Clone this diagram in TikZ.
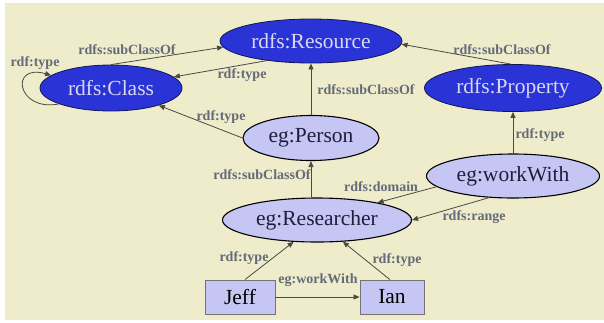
\documentclass[tikz,border=0pt]{standalone}
\usepackage{fontspec}
\setmainfont{Liberation Serif}
\usetikzlibrary{shapes.geometric,arrows.meta}

\definecolor{bg}{HTML}{EEECCB}
\definecolor{classblue}{HTML}{2A34D6}
\definecolor{lav}{HTML}{C6C6F4}
\definecolor{navytext}{HTML}{1E1E3C}
\definecolor{lighttext}{HTML}{D8D8F2}
\definecolor{lblgray}{HTML}{646A78}
\definecolor{edgegray}{HTML}{4A4A40}

\begin{document}
\begin{tikzpicture}[x=1pt,y=-1pt,
  nodefont/.style={font=\fontsize{21.5}{24}\selectfont},
  schema/.style={ellipse, draw=black!60!classblue, line width=0.8pt,
    fill=classblue, text=lighttext, inner sep=0pt, nodefont},
  inst/.style={ellipse, draw=black, line width=1.1pt,
    fill=lav, text=navytext, inner sep=0pt, nodefont},
  resbox/.style={rectangle, draw=black!55, line width=0.9pt, fill=lav,
    text=black, minimum width=70pt, minimum height=34pt, inner sep=0pt, nodefont},
  lbl/.style={text=lblgray, font=\bfseries\fontsize{14}{16}\selectfont, inner sep=0pt},
  rel/.style={draw=edgegray, line width=0.8pt, -{Triangle[length=6pt,width=5pt]}}
]
% canvas
\useasboundingbox (0,0) rectangle (604,322);
\fill[white] (0,0) rectangle (604,322);
\fill[bg] (5,3) rectangle (604,320);

% classes and properties
\node[schema, minimum width=182pt, minimum height=44pt] (rsrc) at (311,41) {rdfs:Resource};
\node[schema, minimum width=142pt, minimum height=46pt] (cls) at (111,88) {rdfs:Class};
\node[schema, minimum width=177pt, minimum height=47pt] (prop) at (513,88) {rdfs:Property};
\node[inst, minimum width=136pt, minimum height=45pt] (person) at (311,138) {eg:Person};
\node[inst, minimum width=173pt, minimum height=44pt] (work) at (513,176) {eg:workWith};
\node[inst, minimum width=189pt, minimum height=44pt] (rsch) at (317,220) {eg:Researcher};

% individuals
\node[resbox] (jeff) at (240,297) {Jeff};
\node[resbox, minimum width=64pt] (ian) at (392,297) {Ian};

% relations
\draw[rel] (cls.north) -- (rsrc.184);
\draw[rel] (rsrc.204) -- (cls.10);
\draw[rel] (cls.197) .. controls +(-42,8) and +(-42,-12) .. (cls.168);
\draw[rel] (person.west) -- (cls.340);
\draw[rel] (person.north) -- (rsrc.south);
\draw[rel] (prop.95) -- (rsrc.358);
\draw[rel] (work.north) -- (prop.south);
\draw[rel] (rsch.north -| person.south) -- (person.south);
\draw[rel] (work.188) -- (rsch.16);
\draw[rel] (work.222) -- (rsch.east);
\draw[rel] (jeff.74) -- (rsch.223);
\draw[rel] (ian.97) -- (rsch.320);
\draw[rel] (jeff.east) -- (ian.west);

% relation labels
\node[lbl] (l1) at (127,50) {rdfs:subClassOf};
\node[lbl] (l2) at (242,75) {rdf:type};
\node[lbl] (l3) at (35,63) {rdf:type};
\node[lbl] (l4) at (221,117) {rdf:type};
\node[lbl] (l5) at (366,90) {rdfs:subClassOf};
\node[lbl] (l6) at (502,50) {rdfs:subClassOf};
\node[lbl] (l7) at (540,135) {rdf:type};
\node[lbl] (l8) at (262,175) {rdfs:subClassOf};
\node[lbl] (l9) at (381,187) {rdfs:domain};
\node[lbl] (l10) at (474,217) {rdfs:range};
\node[lbl] (l11) at (244,258) {rdf:type};
\node[lbl] (l12) at (397,260) {rdf:type};
\node[lbl] (l13) at (318,280) {eg:workWith};
\end{tikzpicture}
\end{document}
